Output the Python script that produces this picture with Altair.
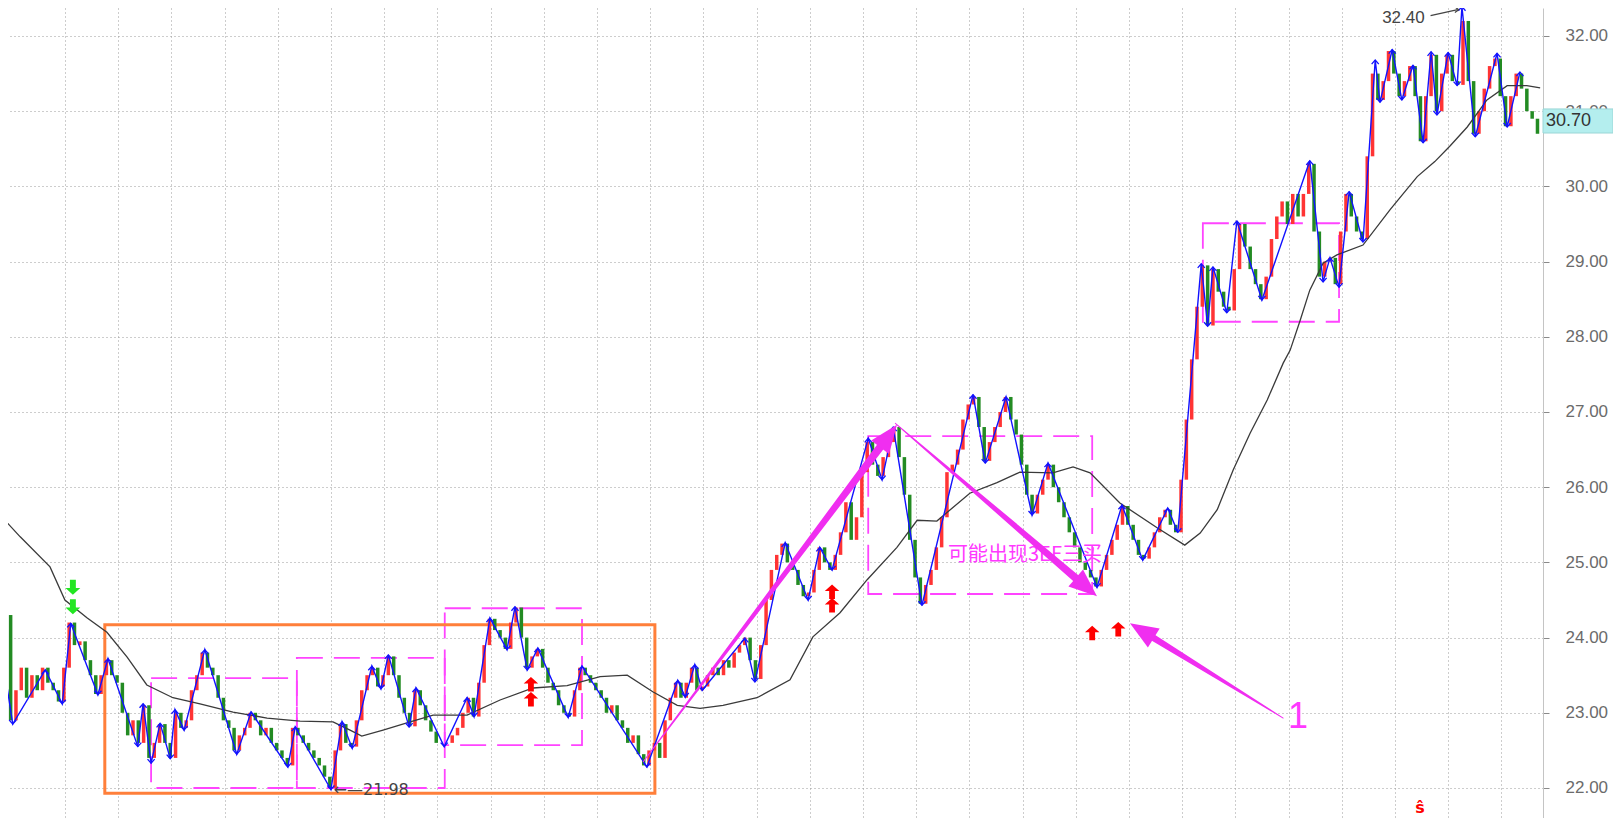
import math
import altair as alt
import pandas as pd

# ---------------- data ----------------
closes = [
    24.90, 24.30, 22.90, 23.30, 23.60, 23.20, 23.50, 23.30, 23.60, 23.40,
    23.30, 23.15, 23.60, 24.20, 23.90, 23.95, 23.70, 23.50, 23.25, 23.50,
    23.70, 23.50, 23.40, 23.00, 22.70, 22.90, 22.60, 23.10, 22.40, 22.60,
    22.85, 22.60, 22.40, 23.00, 22.80, 22.90, 23.30, 23.50, 23.80, 23.60,
    23.50, 23.20, 22.90, 22.80, 22.50, 22.70, 22.80, 23.00, 22.90, 22.70,
    22.80, 22.60, 22.50, 22.40, 22.30, 22.80, 22.70, 22.60, 22.50, 22.40,
    22.30, 22.15, 22.00, 22.50, 22.85, 22.60, 22.55, 22.90, 23.30, 23.50,
    23.60, 23.35, 23.50, 23.75, 23.50, 23.20, 23.00, 22.82, 23.30, 23.10,
    22.90, 22.75, 22.60, 22.60, 22.60, 22.70, 22.80, 23.00, 23.20, 22.95,
    23.40, 23.90, 24.25, 24.10, 24.00, 23.85, 24.20, 24.40, 24.00, 23.60,
    23.75, 23.85, 23.60, 23.40, 23.30, 23.10, 23.00, 22.95, 23.30, 23.60,
    23.50, 23.40, 23.30, 23.20, 23.00, 23.10, 22.90, 22.80, 22.60, 22.70,
    22.45, 22.30, 22.50, 22.60, 22.40, 22.90, 23.20, 23.40, 23.20, 23.40,
    23.60, 23.30, 23.35, 23.50, 23.60, 23.50, 23.70, 23.60, 23.80, 23.90,
    24.00, 23.70, 23.45, 23.90, 24.50, 24.90, 25.10, 25.25, 25.00, 24.90,
    24.70, 24.55, 24.60, 24.90, 25.20, 25.00, 24.90, 25.10, 25.40, 25.80,
    25.30, 25.60, 26.20, 26.60, 26.30, 26.15, 26.40, 26.60, 26.80, 26.40,
    25.90, 25.30, 24.80, 24.45, 24.70, 24.90, 25.20, 25.60, 26.20, 26.30,
    26.50, 26.90, 27.10, 27.20, 26.80, 26.35, 26.60, 26.80, 27.00, 27.20,
    26.90, 26.70, 26.30, 25.90, 25.65, 25.90, 26.10, 26.30, 26.00, 25.80,
    25.60, 25.40, 25.20, 25.00, 24.90, 24.80, 24.68, 24.90, 25.10, 25.30,
    25.50, 25.75, 25.50, 25.30, 25.10, 25.05, 25.20, 25.40, 25.60, 25.70,
    25.50, 25.40, 26.10, 26.90, 27.70, 28.40, 28.95, 28.15, 28.90, 28.60,
    28.40, 28.35, 28.90, 29.50, 29.20, 28.90, 28.70, 28.50, 28.80, 29.30,
    29.60, 29.80, 29.50, 29.90, 29.60, 29.90, 30.30, 29.40, 28.80, 29.00,
    29.05, 28.70, 29.40, 29.90, 29.60, 29.40, 29.30, 30.40, 31.50, 31.15,
    31.40, 31.80, 31.50, 31.20, 31.40, 31.60, 31.20, 30.60, 31.20, 31.75,
    31.00, 31.50, 31.75, 31.40, 31.35, 32.20, 31.40, 30.70, 31.00, 31.30,
    31.60, 31.70, 31.20, 30.80, 31.20, 31.50, 31.30, 31.00, 30.90, 30.70,
]
first_open = 24.80

zz_bar = [0.0, 2.4, 8.5, 11.7, 13.3, 18.4, 20.3, 25.9, 26.9, 28.4, 30.1, 32.0,
          32.9, 34.6, 38.5, 44.5, 47.2, 54.1, 55.5, 62.2, 64.3, 66.2, 69.9, 71.6,
          73.0, 76.9, 78.2, 83.5, 87.8, 89.1, 92.1, 95.3, 96.8, 99.1, 101.1, 106.8,
          109.4, 121.6, 127.4, 128.8, 130.6, 132.0, 140.0, 141.9, 147.6, 151.9,
          154.1, 156.4, 163.2, 165.8, 167.9, 173.3, 182.9, 185.2, 189.1, 194.0,
          197.0, 206.2, 210.9, 214.8, 219.5, 221.4, 225.8, 227.0, 228.0, 230.6,
          232.5, 237.2, 246.2, 248.7, 250.0, 251.7, 253.6, 256.2, 258.5, 259.4,
          261.7, 263.5, 265.6, 267.5, 269.0, 270.1, 272.2, 273.9, 274.8, 277.3,
          281.4, 283.3, 285.7]
zz_price = [23.95, 22.85, 23.57, 23.12, 24.19, 23.24, 23.72, 22.55, 23.12, 22.33,
            22.86, 22.39, 23.04, 22.77, 23.84, 22.45, 23.01, 22.28, 22.81, 21.98,
            22.88, 22.53, 23.62, 23.32, 23.77, 22.81, 23.33, 22.55, 23.20, 22.95,
            24.26, 23.84, 24.41, 23.57, 23.86, 22.94, 23.62, 22.28, 23.43, 23.21,
            23.64, 23.30, 23.99, 23.41, 25.26, 24.50, 25.20, 24.90, 26.65, 26.10,
            26.80, 24.43, 27.23, 26.32, 27.20, 25.63, 26.32, 24.67, 25.76, 25.03,
            25.72, 25.40, 28.97, 28.14, 28.93, 28.32, 29.54, 28.49, 30.34, 28.73,
            29.05, 28.66, 29.93, 29.26, 31.68, 31.12, 31.82, 31.15, 31.61, 30.58,
            31.79, 30.95, 31.78, 31.34, 32.39, 30.66, 31.77, 30.79, 31.52]

ma_bar = [0.0, 3.8, 9.4, 12.2, 16.4, 20.1, 23.9, 27.6, 32.5, 37.6, 43.8, 50.2,
          56.4, 62.6, 65.8, 68.0, 72.0, 77.1, 81.4, 87.8, 94.0, 100.2, 106.6,
          112.8, 117.9, 122.7, 127.3, 131.6, 135.9, 142.3, 148.5, 152.8, 157.9,
          163.0, 168.6, 172.4, 176.1, 182.3, 187.4, 191.7, 197.9, 201.7, 204.9,
          210.5, 217.5, 222.7, 225.6, 228.8, 231.8, 235.0, 238.2, 241.2, 242.5,
          244.4, 246.2, 248.7, 251.3, 256.2, 261.3, 266.4, 269.7, 272.6, 275.8,
          279.5, 283.3, 287.0, 289.5]
ma_price = [25.63, 25.34, 24.94, 24.50, 24.26, 24.07, 23.74, 23.37, 23.20, 23.12,
            23.01, 22.93, 22.89, 22.88, 22.77, 22.69, 22.77, 22.88, 22.97, 22.97,
            23.17, 23.33, 23.36, 23.48, 23.50, 23.28, 23.10, 23.06, 23.10, 23.20,
            23.44, 24.01, 24.33, 24.77, 25.20, 25.56, 25.55, 25.92, 26.06, 26.20,
            26.19, 26.27, 26.19, 25.79, 25.46, 25.23, 25.39, 25.70, 26.23, 26.72,
            27.16, 27.65, 27.82, 28.22, 28.62, 28.98, 29.09, 29.22, 29.69, 30.13,
            30.33, 30.54, 30.79, 31.15, 31.34, 31.34, 31.31]

range_box = {"x1": [19.7], "x2": [123.1], "top": [24.17], "bot": [21.93]}
zone_x1 = [28.4, 55.8, 83.6, 163.2, 226.1]
zone_x2 = [55.8, 83.6, 109.4, 205.3, 251.7]
zone_top = [23.46, 23.73, 24.39, 26.68, 29.51]
zone_bot = [22.00, 22.00, 22.57, 24.58, 28.20]

arr_tail_bar = [120.9, 168.3, 241.2]
arr_tail_price = [22.35, 26.85, 22.93]
arr_tip_bar = [168.6, 206.2, 212.4]
arr_tip_price = [26.83, 24.55, 24.19]
arr_width = [8.0, 8.0, 7.0]

buy_bar = [99.8, 99.8, 156.4, 156.4, 205.3, 210.2]
buy_price = [23.38, 23.18, 24.61, 24.43, 24.06, 24.11]
sell_bar = [13.7, 13.7]
sell_price = [24.67, 24.41]

y_ticks = [22, 23, 24, 25, 26, 27, 28, 29, 30, 31, 32]
grid_bars = [12.22 + 10 * k for k in range(28)]

last_price = 30.70
high_label, high_bar, high_price = "32.40", 259.8, 32.24
low_label, low_bar, low_price = "←—21.98", 62.7, 21.98
note_text, note_bar, note_price = "可能出现3EF三买", 178.2, 25.10
num_text, num_bar, num_price = "1", 244.0, 22.94
s_text, s_bar, s_price = "ŝ", 266.9, 21.73

# ---------------- geometry / style ----------------
PXB = 5.32      # px per bar
PXP = 75.2      # px per price unit
W, H = 1535, 810
RIGHT_PAD = 70
X_DOM = [8 / PXB, 1543 / PXB]
Y_TOP = 32.3723
Y_DOM = [Y_TOP - H / PXP, Y_TOP]

RED = "#ff3434"
GREEN = "#238b23"
BLUE = "#1212ff"
MAG = "#f02ef0"
MAGBOX = "#ff44ff"
ORANGE = "#ff7f3a"

XAXIS = alt.Axis(values=grid_bars, labels=False, ticks=False, domain=True,
                 domainColor="#c4c4c4", grid=True, gridColor="#9a9a9a",
                 gridDash=[1, 3], gridWidth=1, title=None)
YAXIS = alt.Axis(orient="right", values=y_ticks, format=".2f", labelFontSize=17,
                 labelFont="Liberation Sans", labelColor="#6b6b6b", tickColor="#8a8a8a",
                 tickSize=6, labelPadding=16, domainColor="#c4c4c4", grid=True,
                 gridColor="#9a9a9a", gridDash=[1, 3], gridWidth=1, title=None)


def X(f):
    return alt.X(f"{f}:Q", scale=alt.Scale(domain=X_DOM, nice=False, zero=False), axis=XAXIS)


def Y(f):
    return alt.Y(f"{f}:Q", scale=alt.Scale(domain=Y_DOM, nice=False, zero=False), axis=YAXIS)


# candles
opens = [first_open] + closes[:-1]
cdf = pd.DataFrame({"bar": list(range(len(closes))), "open": opens, "close": closes})
cdf["dir"] = ["up" if c >= o else "down" for o, c in zip(opens, closes)]

candles = alt.Chart(cdf).mark_rule(strokeWidth=3.5).encode(
    x=X("bar"), y=Y("open"), y2="close",
    color=alt.Color("dir:N", scale=alt.Scale(domain=["up", "down"], range=[RED, GREEN]), legend=None),
)

ma = alt.Chart(pd.DataFrame({"bar": ma_bar, "p": ma_price})).mark_line(
    color="#3a3a3a", strokeWidth=1.3).encode(x=X("bar"), y=Y("p"))

zz_df = pd.DataFrame({"bar": zz_bar, "p": zz_price, "i": list(range(len(zz_bar)))})
zz = alt.Chart(zz_df).mark_line(color=BLUE, strokeWidth=1.4).encode(
    x=X("bar"), y=Y("p"), order="i:Q")

hi_rows, lo_rows = [], []
for i in range(1, len(zz_bar)):
    row = {"bar": zz_bar[i], "p": zz_price[i]}
    (hi_rows if zz_price[i] > zz_price[i - 1] else lo_rows).append(row)

chev_hi = alt.Chart(pd.DataFrame(hi_rows)).mark_point(
    shape="M-0.8,0.9L0,0L0.8,0.9", filled=False, color=BLUE, strokeWidth=1.3, size=80, opacity=1
).encode(x=X("bar"), y=Y("p"))
chev_lo = alt.Chart(pd.DataFrame(lo_rows)).mark_point(
    shape="M-0.8,-0.9L0,0L0.8,-0.9", filled=False, color=BLUE, strokeWidth=1.3, size=80, opacity=1
).encode(x=X("bar"), y=Y("p"))

# boxes
orange_box = alt.Chart(pd.DataFrame(range_box)).mark_rect(
    fillOpacity=0, stroke=ORANGE, strokeWidth=3).encode(
    x=X("x1"), x2="x2", y=Y("top"), y2="bot")
zones = alt.Chart(pd.DataFrame({"x1": zone_x1, "x2": zone_x2, "top": zone_top, "bot": zone_bot})).mark_rect(
    fillOpacity=0, stroke=MAGBOX, strokeWidth=1.8, strokeDash=[26, 11]).encode(
    x=X("x1"), x2="x2", y=Y("top"), y2="bot")

# magenta arrows
trail_rows, head_rows = [], []
for i in range(len(arr_tip_bar)):
    dxp = (arr_tip_bar[i] - arr_tail_bar[i]) * PXB
    dyp = (arr_tip_price[i] - arr_tail_price[i]) * PXP
    L = math.hypot(dxp, dyp)
    ux, uy = dxp / L, dyp / L
    trail_rows.append({"id": i, "k": 0, "bar": arr_tail_bar[i], "p": arr_tail_price[i], "w": 1.0})
    trail_rows.append({"id": i, "k": 1, "bar": arr_tip_bar[i] - 22 * ux / PXB,
                       "p": arr_tip_price[i] - 22 * uy / PXP, "w": arr_width[i]})
    head_rows.append({"bar": arr_tip_bar[i] - 14 * ux / PXB, "p": arr_tip_price[i] - 14 * uy / PXP,
                      "ang": math.degrees(math.atan2(ux, uy)) % 360})

trails = alt.Chart(pd.DataFrame(trail_rows)).mark_trail(color=MAG).encode(
    x=X("bar"), y=Y("p"), size=alt.Size("w:Q", scale=None, legend=None),
    detail="id:N", order="k:Q")
heads = alt.Chart(pd.DataFrame(head_rows)).mark_point(
    shape="M0,-1L0.8,1L-0.8,1Z", filled=True, color=MAG, size=784, opacity=1, strokeWidth=0
).encode(x=X("bar"), y=Y("p"), angle=alt.Angle("ang:Q", scale=None))

# signals
UP_ARROW = "M0,-1L1,-0.1L0.4,-0.1L0.4,1L-0.4,1L-0.4,-0.1L-1,-0.1Z"
DN_ARROW = "M0,1L1,0.1L0.4,0.1L0.4,-1L-0.4,-1L-0.4,0.1L-1,0.1Z"
buys = alt.Chart(pd.DataFrame({"bar": buy_bar, "p": buy_price})).mark_point(
    shape=UP_ARROW, filled=True, color="#ff0000", size=210, opacity=1, strokeWidth=0
).encode(x=X("bar"), y=Y("p"))
sells = alt.Chart(pd.DataFrame({"bar": sell_bar, "p": sell_price})).mark_point(
    shape=DN_ARROW, filled=True, color="#22e622", size=220, opacity=1, strokeWidth=0
).encode(x=X("bar"), y=Y("p"))

# texts


def txt(label, bar, p, **kw):
    return alt.Chart(pd.DataFrame({"t": [label], "bar": [bar], "p": [p]})).mark_text(**kw).encode(
        x=X("bar"), y=Y("p"), text="t:N")


note = txt(note_text, note_bar, note_price, font="Noto Sans CJK SC", fontSize=20,
           color="#ff38ff", align="left", baseline="middle")
num = txt(num_text, num_bar, num_price, font="Liberation Sans", fontSize=36,
          color="#ff38ff", align="center", baseline="middle")
hi_t = txt(high_label, high_bar, high_price, font="Liberation Sans", fontSize=17,
           color="#444444", align="left", baseline="middle")
lo_t = txt(low_label, low_bar, low_price, font="DejaVu Sans", fontSize=16,
           color="#444444", align="left", baseline="middle")
s_t = txt(s_text, s_bar, s_price, font="DejaVu Sans", fontSize=16, fontWeight="bold",
          color="#ff0000", align="center", baseline="middle")

hi_lead = alt.Chart(pd.DataFrame({"b1": [268.9], "b2": [274.0], "p1": [32.27], "p2": [32.35]})).mark_rule(
    color="#444444", strokeWidth=1.2).encode(x=X("b1"), x2="b2", y=Y("p1"), y2="p2")
hi_head = alt.Chart(pd.DataFrame({"bar": [274.2], "p": [32.35]})).mark_point(
    shape="M-1,-0.7L0,0L-1,0.7", filled=False, color="#444444", size=60, strokeWidth=1.2, opacity=1
).encode(x=X("bar"), y=Y("p"))

# last price tag
tag = alt.Chart(pd.DataFrame({"top": [31.03], "bot": [30.71]})).mark_rect(
    color="#b4eeee", stroke="#9ad6d6", strokeWidth=1).encode(
    x=alt.value(W), x2=alt.value(W + RIGHT_PAD), y=Y("top"), y2="bot")
tag_t = alt.Chart(pd.DataFrame({"t": [f"{last_price:.2f}"], "p": [30.87]})).mark_text(
    font="Liberation Sans", fontSize=18, color="#333333", align="left", baseline="middle").encode(
    x=alt.value(W + 3), y=Y("p"), text="t:N")

chart = alt.layer(
    zones, orange_box, candles, ma, zz, chev_hi, chev_lo, buys, sells,
    note, trails, heads, num, hi_t, hi_lead, hi_head, lo_t, s_t, tag, tag_t,
).properties(
    width=W, height=H, background="white",
    autosize=alt.AutoSizeParams(type="none"),
    padding={"left": 0, "top": 0, "right": RIGHT_PAD, "bottom": 0},
).configure_view(strokeWidth=0)

chart.save("out.html", embed_options={"renderer": "svg", "actions": False})
